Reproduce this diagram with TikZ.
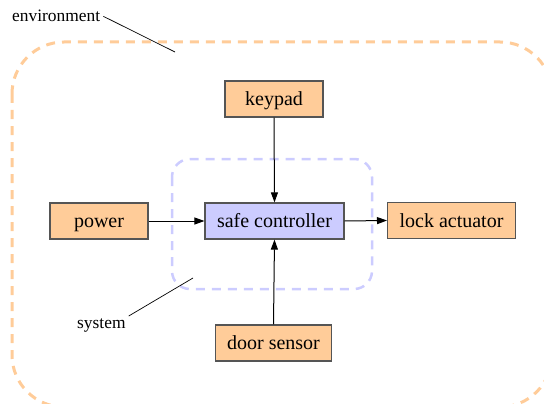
\documentclass[tikz,border=0pt]{standalone}
\usepackage{fontspec}
\setmainfont{Liberation Serif}
\newfontfamily\boxfont{Liberation Serif}
\usetikzlibrary{arrows.meta}
\definecolor{peach}{HTML}{FFCC99}
\definecolor{lavender}{HTML}{CCCCFF}
\definecolor{edgegray}{HTML}{555555}
\tikzset{
  block/.style={draw=edgegray, line width=1.2pt, fill=peach, minimum width=98pt,
    minimum height=36pt, inner xsep=12pt, inner ysep=0pt,
    text height=17pt, text depth=4pt,
    font=\boxfont\fontsize{20}{24}\selectfont},
  core/.style={block, fill=lavender},
  flow/.style={line width=1pt, -{Triangle[length=10pt,width=7pt]}},
  boundary/.style={line width=3pt, dash pattern=on 9pt off 7pt, rounded corners=#1},
  tag/.style={inner sep=0pt, anchor=base west, font=\boxfont\fontsize{17.4}{20}\selectfont},
  leader/.style={line width=0.7pt}
}
\begin{document}
\begin{tikzpicture}[x=1pt, y=-1pt]
  \useasboundingbox (0,0) rectangle (544,404);
  \clip (0,0) rectangle (544,404);

  % environment and system boundaries
  \draw[boundary=52pt, peach] (12,42) rectangle (552,407);
  \draw[boundary=18pt, lavender, line width=2.5pt] (172,159) rectangle (372,289);

  % components
  \node[block] (keypad) at (274,99) {keypad};
  \node[block] (power) at (99,221) {power};
  \node[core] (ctrl) at (274.5,221) {safe controller};
  \node[block] (lock) at (451.5,220.5) {lock actuator};
  \node[block] (door) at (273.5,343) {door sensor};

  % signal flow
  \draw[flow] (keypad.south) -- (ctrl.north);
  \draw[flow] (door.north) -- (ctrl.south);
  \draw[flow] (power.east) -- (ctrl.west);
  \draw[flow] (ctrl.east) -- (lock.west);

  % boundary labels
  \node[tag] (envlabel) at (12,22) {environment};
  \node[tag] (syslabel) at (77,328) {system};
  \coordinate (envtip) at (175,52);
  \coordinate (systip) at (193,278);
  \draw[leader] ([xshift=3pt]envlabel.east) -- (envtip);
  \draw[leader] ([xshift=3pt,yshift=2pt]syslabel.north east) -- (systip);
\end{tikzpicture}
\end{document}
